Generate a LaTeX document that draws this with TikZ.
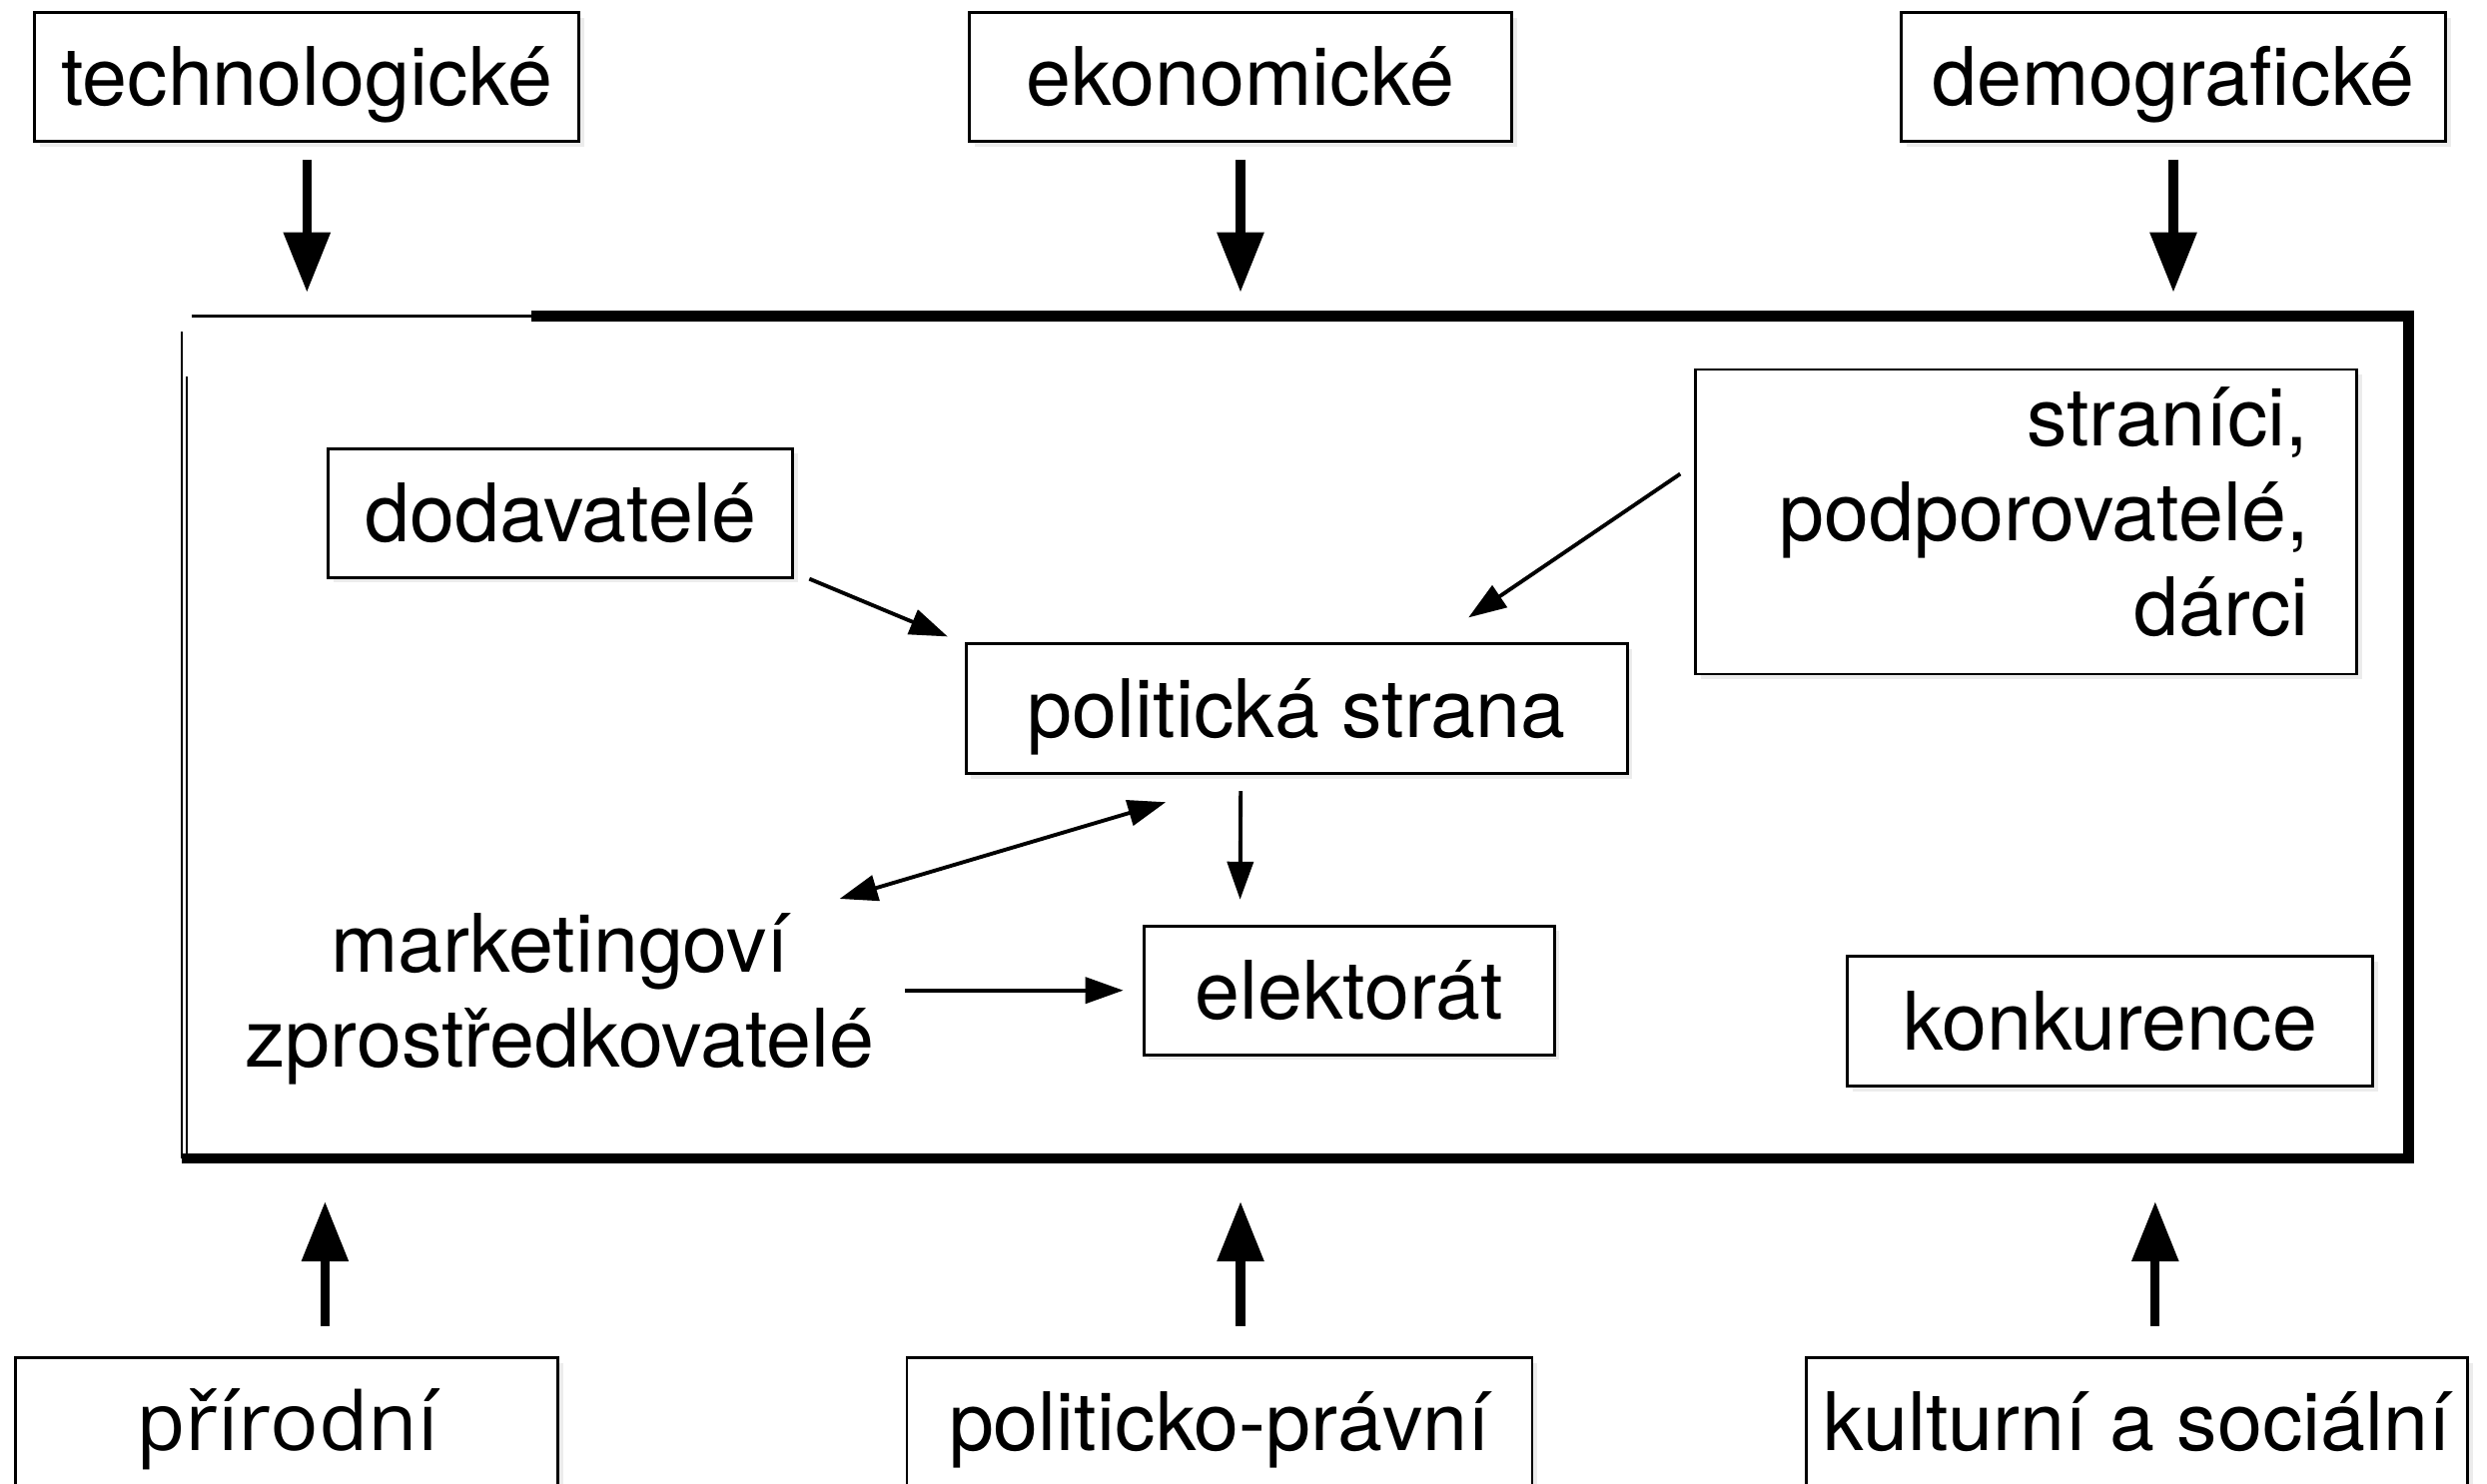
\documentclass[tikz,border=0pt]{standalone}
\usepackage{fontspec}
\setmainfont{TeX Gyre Heros}
\newfontfamily\prirodnifont{Open Sans}
\usetikzlibrary{arrows.meta,shadows}

\begin{document}
\begin{tikzpicture}[font=\fontsize{23}{27}\selectfont,
    box/.style={draw, line width=0.8pt, fill=white, inner sep=0pt, minimum height=1.29cm,
      text height=0.62cm, text depth=0.05cm,
      drop shadow={shadow xshift=0.05cm, shadow yshift=-0.05cm, opacity=0.15}},
    big box/.style={draw, line width=0.8pt, fill=white,
      drop shadow={shadow xshift=0.05cm, shadow yshift=-0.05cm, opacity=0.15}},
    big arrow/.style={line width=2.6pt, -{Triangle[length=0.6cm,width=0.45cm]}},
    small arrow/.style={line width=1.1pt, -{Triangle[length=0.38cm,width=0.26cm]}},
    both arrow/.style={line width=1.1pt, {Triangle[length=0.38cm,width=0.26cm]}-{Triangle[length=0.38cm,width=0.26cm]}}]
          \useasboundingbox (0,0) rectangle (24.9,-14.86);

          % okoli strany
          \node[minimum width=22.28cm, minimum height=8.42cm] (okoli) at (12.966,-7.384) {};
          \draw[line width=0.6pt] (okoli.south west) -- ([yshift=-0.15cm]okoli.north west);
          \draw[line width=0.5pt] ([xshift=0.05cm]okoli.south west) -- ([xshift=0.05cm,yshift=-0.6cm]okoli.north west);
          \draw[line width=1pt] ([xshift=0.1cm]okoli.north west) -- ([xshift=5cm]okoli.north west);
          \draw[line width=3pt] ([xshift=3.5cm]okoli.north west) -- (okoli.north east) -- (okoli.south east) -- (okoli.south west);

          \node[box, minimum width=5.45cm] (tech) at (3.073,-0.770) {technologické};
          \node[box, minimum width=5.43cm] (ekon) at (12.42,-0.770) {ekonomické};
          \node[box, minimum width=5.45cm] (demo) at (21.76,-0.770) {demografické};

          \node[box, minimum width=4.65cm] (dod) at (5.614,-5.137) {dodavatelé};
          \node[big box, minimum width=6.62cm, minimum height=3.05cm] (stran) at (20.287,-5.225) {};
          \node[align=right, anchor=east, inner sep=0pt] (stranText) at ([xshift=-0.49cm,yshift=0.1cm]stran.east) {straníci,\\podporovatelé,\\dárci};
          \node[box, minimum width=6.62cm, minimum height=1.30cm] (pol) at (12.982,-7.098) {politická strana};
          \node[box, minimum width=4.11cm] (elek) at (13.506,-9.917) {elektorát};
          \node[box, minimum width=5.26cm, minimum height=1.30cm] (konk) at (21.128,-10.227) {konkurence};
          \node[align=center, inner sep=0.3cm] (market) at (5.606,-10.0) {marketingoví\\zprostředkovatelé};

          \node[box, minimum width=5.43cm] (prir) at (2.874,-14.24) {\prirodnifont přírodní};
          \node[box, minimum width=6.26cm] (polpr) at (12.21,-14.24) {politicko-právní};
          \node[box, minimum width=6.62cm] (kult) at (21.398,-14.24) {kulturní a sociální};

          % vnejsi vlivy
          \draw[big arrow, shorten <=0.17cm, shorten >=0.24cm] (tech.south) -- (tech.south |- okoli.north);
          \draw[big arrow, shorten <=0.17cm, shorten >=0.24cm] (ekon.south) -- (ekon.south |- okoli.north);
          \draw[big arrow, shorten <=0.17cm, shorten >=0.24cm] (demo.south) -- (demo.south |- okoli.north);

          \draw[big arrow, shorten <=0.30cm, shorten >=0.43cm] ([xshift=0.38cm]prir.north) -- ([xshift=0.38cm]prir.north |- okoli.south);
          \draw[big arrow, shorten <=0.30cm, shorten >=0.43cm] ([xshift=0.21cm]polpr.north) -- ([xshift=0.21cm]polpr.north |- okoli.south);
          \draw[big arrow, shorten <=0.30cm, shorten >=0.43cm] ([xshift=0.18cm]kult.north) -- ([xshift=0.18cm]kult.north |- okoli.south);

          % uvnitr
          \draw[small arrow] ([xshift=0.15cm]dod.south east) -- ([xshift=-0.17cm,yshift=0.06cm]pol.north west);
          \draw[small arrow] ([xshift=-0.14cm,yshift=0.48cm]stran.west) -- ([xshift=1.72cm,yshift=0.25cm]pol.north);
          \draw[small arrow] ([xshift=-0.56cm,yshift=-0.16cm]pol.south) -- ([xshift=-1.09cm,yshift=0.25cm]elek.north);
          \draw[both arrow] ([shift={(2.8,1.0)}]market.center) -- ([xshift=-1.31cm,yshift=-0.27cm]pol.south);
          \draw[small arrow, shorten >=0.19cm] (market.east |- elek.west) -- (elek.west);
        \end{tikzpicture}
\end{document}
